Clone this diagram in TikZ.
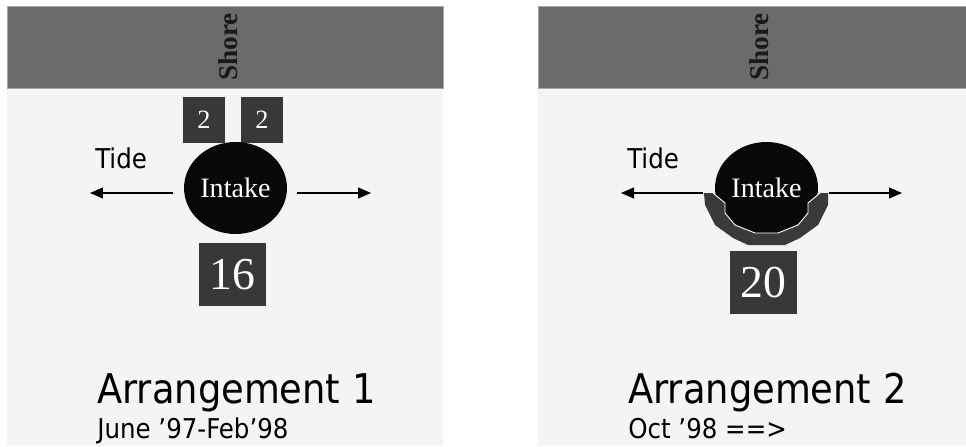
\documentclass[tikz,border=0pt]{standalone}
\usepackage{fontspec}
\setmainfont{Liberation Serif}
\newfontfamily\tahoma{DejaVu Sans Condensed}
\usetikzlibrary{shapes.geometric,arrows.meta}
\definecolor{panelbg}{HTML}{F4F4F4}
\definecolor{shoregray}{HTML}{6B6B6B}
\definecolor{cellgray}{HTML}{383838}
\definecolor{rimgray}{HTML}{3A3A3A}
\begin{document}
\begin{tikzpicture}[x=0.02cm, y=-0.02cm,
  panel/.style={fill=panelbg, draw=none},
  band/.style={fill=shoregray, draw=gray!70, line width=0.4pt},
  shore/.style={rotate=90, font=\fontsize{15.5}{16}\selectfont\bfseries, text=black!90},
  cell/.style={rectangle, fill=cellgray, text=white, inner sep=0pt},
  small/.style={cell, minimum width=0.84cm, minimum height=0.92cm, font=\fontsize{15}{16}\selectfont},
  big/.style={cell, minimum width=1.34cm, minimum height=1.26cm, font=\fontsize{26}{28}\selectfont},
  intake/.style={ellipse, fill=black!97, text=white, inner sep=0pt,
                 minimum width=2.06cm, minimum height=1.84cm, font=\fontsize{16}{18}\selectfont},
  tidelbl/.style={anchor=base west, inner sep=0pt, font=\tahoma\fontsize{15.5}{17}\selectfont},
  title/.style={anchor=base west, inner sep=0pt, font=\tahoma\fontsize{23.3}{25}\selectfont},
  dates/.style={anchor=base west, inner sep=0pt, font=\tahoma\fontsize{15.5}{17}\selectfont},
  tide/.style={-{Triangle[length=0.26cm, width=0.22cm]}, line width=0.6pt}
]
  \useasboundingbox (0,0) rectangle (966,446);

  % Arrangement 1
  \fill[panel] (7,6) rectangle (443,446);
  \filldraw[band] (7,6) rectangle (443,88);
  \node[shore] (shoreA) at (228,47) {Shore};
  \node[small] (twoL) at (204,120) {2};
  \node[small] (twoR) at (262,120) {2};
  \node[intake] (intakeA) at (235.5,188) {Intake};
  \node[big] (cellA) at (232.5,274.5) {16};
  \node[tidelbl] (tideA) at (95,168) {Tide};
  \coordinate (lsA) at (173,193);
  \coordinate (leA) at (90,193);
  \coordinate (rsA) at (297,193);
  \coordinate (reA) at (371,193);
  \draw[tide] (lsA) -- (leA);
  \draw[tide] (rsA) -- (reA);
  \node[title] (titleA) at (97,403) {Arrangement 1};
  \node[dates] (datesA) at (97,438) {June ’97-Feb’98};

  % Arrangement 2
  \fill[panel] (538,6) rectangle (966,446);
  \filldraw[band] (538,6) rectangle (966,88);
  \node[shore] (shoreB) at (759,47) {Shore};
  \node[intake] (intakeB) at (766.5,188) {Intake};
  \fill[rimgray] (704,193) -- (705,205) -- (715,225) -- (733,238) -- (748,245)
    -- (785,245) -- (800,238) -- (818,225) -- (828,205) -- (828,193)
    -- (820,193) -- (808,203) -- (808,213) -- (798,225) -- (778,233)
    -- (755,233) -- (735,225) -- (725,213) -- (725,203) -- (713,193) -- cycle;
  \draw[white, line width=0.5pt] (713,193) -- (725,203) -- (725,213) -- (735,225)
    -- (755,233) -- (778,233) -- (798,225) -- (808,213) -- (808,203) -- (820,193);
  \node[big] (cellB) at (763.5,282.5) {20};
  \node[tidelbl] (tideB) at (627,168) {Tide};
  \coordinate (lsB) at (703,193);
  \coordinate (leB) at (621,193);
  \coordinate (rsB) at (829,193);
  \coordinate (reB) at (902,193);
  \draw[tide] (lsB) -- (leB);
  \draw[tide] (rsB) -- (reB);
  \node[title] (titleB) at (628,403) {Arrangement 2};
  \node[dates] (datesB) at (628,438) {Oct ’98 ==>};
\end{tikzpicture}
\end{document}
